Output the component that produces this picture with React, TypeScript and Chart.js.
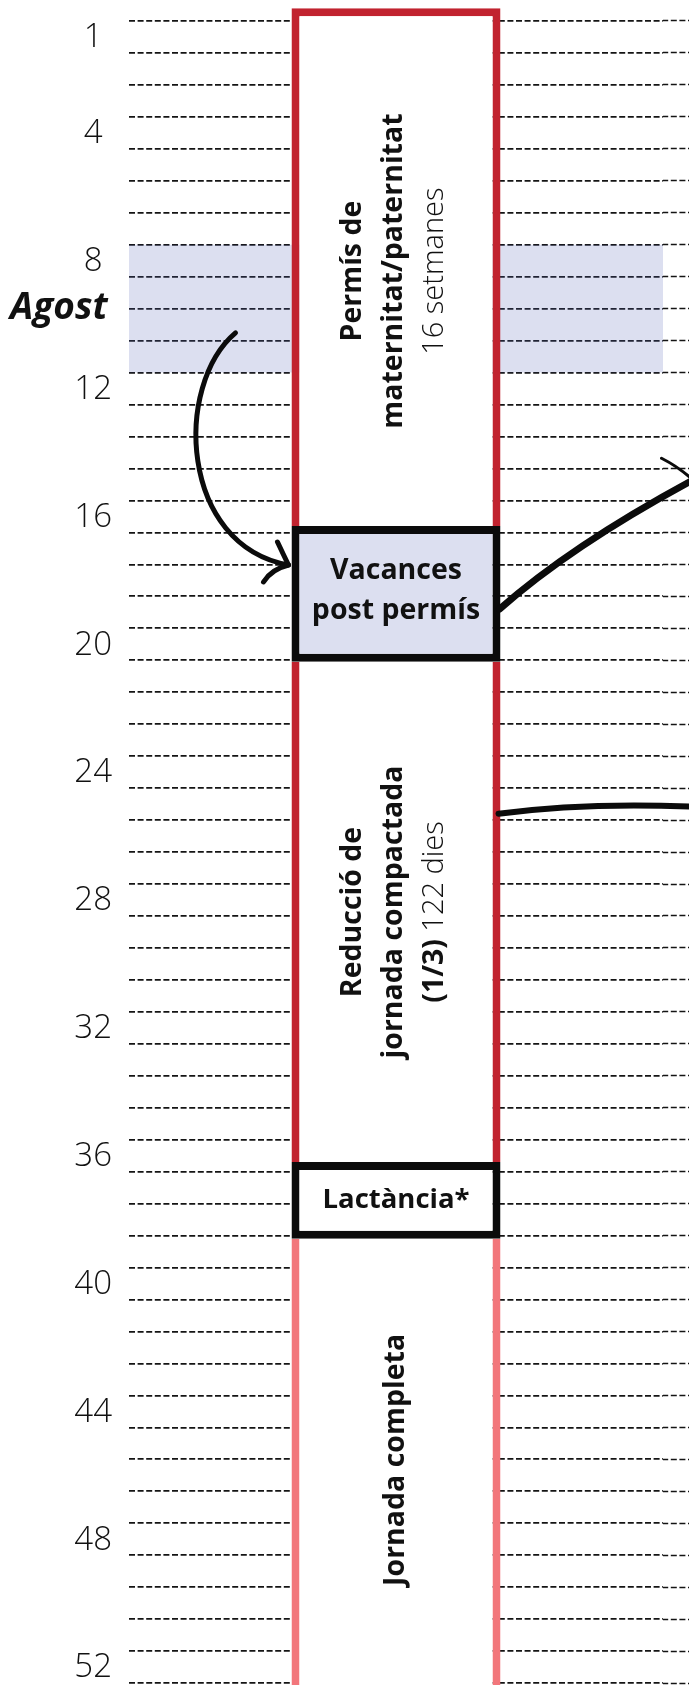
import React, { useEffect, useRef } from 'react';
import { Chart, registerables } from 'chart.js';

Chart.register(...registerables);

// ---- data ----
const categories = ['Setmanes'];
const weekLabels = [1, 4, 8, 12, 16, 20, 24, 28, 32, 36, 40, 44, 48, 52];
const gridWeeks = [
  0, 1, 2, 3, 4, 5, 6, 7, 8, 9, 10, 11, 12, 13, 14, 15, 16, 17, 18, 19, 20, 21, 22, 23, 24, 25, 26,
  27, 28, 29, 30, 31, 32, 33, 34, 35, 36, 37, 38, 39, 40, 41, 42, 43, 44, 45, 46, 47, 48, 49, 50, 51, 52,
];
const monthLabels = ['Agost'];
const monthStart = [7];
const monthEnd = [11];

const phaseNames = [
  'Permís de maternitat/paternitat',
  'Vacances post permís',
  'Reducció de jornada compactada (1/3)',
  'Lactància*',
  'Jornada completa',
];
const phaseStart = [-0.4, 15.8, 20.05, 35.7, 38.1];
const phaseEnd = [15.8, 20.05, 35.7, 38.1, 52.6];
const phaseDetail = ['16 setmanes', '', '122 dies', '', ''];

// ---- styles ----
const RED = '#c1232f';
const PINK = '#f2767b';
const BLACK = '#0b0b0b';
const BAND = 'rgba(80, 95, 180, 0.2)';
const BLUE_FILL = '#dcdff0';
const TEXT = '#111111';
const GRID = '#141414';
const Y_MIN = -0.657;
const Y_MAX = 52.06;
const FONT = '"Open Sans"';
const DASH = [6, 2.6];

const zeroPad = (s: any) => {
  s.paddingTop = 0;
  s.paddingBottom = 0;
  s.paddingLeft = 0;
  s.paddingRight = 0;
};

export default function App() {
  const ref = useRef<HTMLCanvasElement>(null);

  useEffect(() => {
    const canvas = ref.current;
    if (!canvas) return;

    const phaseBorder = [RED, BLACK, RED, BLACK, PINK];
    const phaseFill = ['#ffffff', BLUE_FILL, '#ffffff', '#ffffff', '#ffffff'];
    const phaseBorderWidth: any[] = [
      { top: 8, left: 8, right: 8, bottom: 0 },
      8,
      { top: 0, left: 8, right: 8, bottom: 0 },
      8,
      { top: 0, left: 8, right: 8, bottom: 0 },
    ];
    const phaseOrder = [1, 0, 1, 0, 1];
    const colPct = 0.3914;

    const datasets: any[] = phaseNames.map((name, i) => ({
      label: name,
      data: [[phaseStart[i], phaseEnd[i]]],
      backgroundColor: phaseFill[i],
      borderColor: phaseBorder[i],
      borderWidth: phaseBorderWidth[i],
      borderSkipped: false,
      barPercentage: colPct,
      categoryPercentage: 1,
      grouped: false,
      order: phaseOrder[i],
      inflateAmount: 0,
    }));
    datasets.push({
      label: monthLabels[0],
      data: monthLabels.map((_, i) => [monthStart[i], monthEnd[i]]),
      backgroundColor: BAND,
      borderWidth: 0,
      barPercentage: 1,
      categoryPercentage: 1,
      grouped: false,
      order: 5,
      inflateAmount: 0,
    });

    const bold = (s: number) => `bold ${s}px ${FONT}`;
    const light = (s: number) => `300 ${s}px ${FONT}`;

    type Part = { text: string; font: string };
    const drawLines = (
      ctx: CanvasRenderingContext2D,
      cx: number,
      cy: number,
      lines: Part[][],
      spacing: number,
      rotate: boolean
    ) => {
      ctx.save();
      ctx.translate(cx, cy);
      if (rotate) ctx.rotate(-Math.PI / 2);
      ctx.textBaseline = 'middle';
      ctx.textAlign = 'left';
      ctx.fillStyle = TEXT;
      lines.forEach((parts, li) => {
        const off = (li - (lines.length - 1) / 2) * spacing;
        let total = 0;
        parts.forEach((p) => {
          ctx.font = p.font;
          total += ctx.measureText(p.text).width;
        });
        let x = -total / 2;
        parts.forEach((p) => {
          ctx.font = p.font;
          ctx.fillText(p.text, x, off);
          x += ctx.measureText(p.text).width;
        });
      });
      ctx.restore();
    };

    const textPlugin = {
      id: 'phaseText',
      afterDatasetsDraw(chart: any) {
        const ctx: CanvasRenderingContext2D = chart.ctx;
        const area = chart.chartArea;
        const ys = chart.scales.y;
        const bars = phaseNames.map((_, i) =>
          chart.getDatasetMeta(i).data[0].getProps(['x', 'y', 'base', 'width'], true)
        );
        const center = (b: any) => {
          const top = Math.max(Math.min(b.y, b.base), area.top);
          const bot = Math.min(Math.max(b.y, b.base), area.bottom);
          return (top + bot) / 2;
        };
        const B = bold(28.5);
        const L = light(29);
        // Permís
        drawLines(
          ctx,
          bars[0].x - 2,
          center(bars[0]) + 4,
          [
            [{ text: 'Permís de', font: B }],
            [{ text: 'maternitat/paternitat', font: B }],
            [{ text: phaseDetail[0], font: L }],
          ],
          41,
          true
        );
        // Vacances
        drawLines(
          ctx,
          bars[1].x,
          center(bars[1]) - 3,
          [[{ text: 'Vacances', font: bold(28.5) }], [{ text: 'post permís', font: bold(28.5) }]],
          40,
          false
        );
        // Reducció
        drawLines(
          ctx,
          bars[2].x - 2,
          center(bars[2]),
          [
            [{ text: 'Reducció de', font: B }],
            [{ text: 'jornada compactada', font: B }],
            [
              { text: '(1/3) ', font: B },
              { text: phaseDetail[2], font: L },
            ],
          ],
          41,
          true
        );
        // Lactància
        drawLines(ctx, bars[3].x, center(bars[3]), [[{ text: 'Lactància*', font: bold(27.5) }]], 36, false);
        // Jornada completa
        drawLines(ctx, bars[4].x, center(bars[4]) - 2, [[{ text: 'Jornada completa', font: B }]], 41, true);

        // ---- hand-drawn arrows ----
        const colL = bars[0].x - bars[0].width / 2;
        const colR = bars[0].x + bars[0].width / 2;
        const yv = (v: number) => ys.getPixelForValue(v);
        ctx.save();
        ctx.strokeStyle = BLACK;
        ctx.lineCap = 'round';
        ctx.lineJoin = 'round';
        // arrow 1 (curved, to Vacances box)
        ctx.lineWidth = 5;
        ctx.beginPath();
        ctx.moveTo(colL - 56, yv(9.76));
        ctx.bezierCurveTo(colL - 118, yv(11.4), colL - 112, yv(16.4), colL - 3, yv(17.02));
        ctx.stroke();
        ctx.beginPath();
        ctx.moveTo(colL - 14, yv(16.3));
        ctx.quadraticCurveTo(colL - 8, yv(16.7), colL - 3, yv(17.02));
        ctx.quadraticCurveTo(colL - 20, yv(17.15), colL - 28, yv(17.55));
        ctx.stroke();
        // arrow 2 (from Vacances box up-right)
        ctx.lineWidth = 7;
        ctx.beginPath();
        ctx.moveTo(colR - 1, yv(18.4));
        ctx.quadraticCurveTo(colR + 75, yv(16.3), colR + 205, yv(14.15));
        ctx.stroke();
        ctx.lineWidth = 3;
        ctx.beginPath();
        ctx.moveTo(colR + 161, yv(13.68));
        ctx.quadraticCurveTo(colR + 178, yv(13.95), colR + 192, yv(14.35));
        ctx.stroke();
        // arrow 3 (from Reducció to the right)
        ctx.lineWidth = 6;
        ctx.beginPath();
        ctx.moveTo(colR - 2, yv(24.8));
        ctx.quadraticCurveTo(colR + 90, yv(24.42), colR + 205, yv(24.6));
        ctx.stroke();
        ctx.restore();
      },
    };

    const vBase = { type: 'linear', reverse: true, min: Y_MIN, max: Y_MAX };

    const chart = new Chart(canvas, {
      type: 'bar',
      data: { labels: categories, datasets },
      plugins: [textPlugin],
      options: {
        responsive: false,
        animation: false,
        events: [],
        layout: { padding: 0, autoPadding: false },
        plugins: { legend: { display: false }, tooltip: { enabled: false }, title: { display: false } },
        scales: {
          x: { type: 'category', display: false, offset: true },
          y: {
            ...vBase,
            position: 'left',
            weight: 0,
            ticks: { display: false },
            grid: { color: GRID, lineWidth: 1.7, drawTicks: false },
            border: { display: false, dash: DASH },
            afterBuildTicks: (s: any) => {
              s.ticks = gridWeeks.map((v) => ({ value: v }));
            },
            afterFit: (s: any) => {
              s.width = 0;
              zeroPad(s);
            },
          },
          yMonth: {
            ...vBase,
            position: 'left',
            weight: 1,
            grid: { display: false, drawTicks: false },
            border: { display: false },
            ticks: {
              autoSkip: false,
              mirror: true,
              crossAlign: 'near',
              padding: -119,
              color: TEXT,
              font: { family: FONT, size: 37, weight: 'bold', style: 'italic' },
              callback: (_v: any, i: number) => monthLabels[i],
            },
            afterBuildTicks: (s: any) => {
              s.ticks = monthStart.map((st, i) => ({ value: (st + monthEnd[i]) / 2 }));
            },
            afterFit: (s: any) => {
              s.width = 0;
              zeroPad(s);
            },
          },
          yWeeks: {
            ...vBase,
            position: 'left',
            weight: 2,
            grid: { display: false, drawTicks: false },
            border: { display: false },
            ticks: {
              autoSkip: false,
              crossAlign: 'center',
              padding: 17,
              color: TEXT,
              font: { family: FONT, size: 33, weight: '300' },
              callback: (_v: any, i: number) => String(weekLabels[i]),
            },
            afterBuildTicks: (s: any) => {
              s.ticks = weekLabels.map((k) => ({ value: k - 0.47 }));
            },
            afterFit: (s: any) => {
              s.width = 129;
              zeroPad(s);
            },
          },
          yRight: {
            ...vBase,
            position: 'right',
            ticks: { display: false },
            grid: {
              drawOnChartArea: false,
              drawTicks: true,
              tickLength: 26,
              tickColor: GRID,
              tickWidth: 1.7,
              tickBorderDash: DASH,
              tickBorderDashOffset: 0.8,
            },
            border: { display: false },
            afterBuildTicks: (s: any) => {
              s.ticks = gridWeeks.map((v) => ({ value: v }));
            },
            afterFit: (s: any) => {
              s.width = 26;
              zeroPad(s);
            },
          },
        },
      } as any,
    });

    return () => chart.destroy();
  }, []);

  return (
    <div style={{ position: 'absolute', left: 0, top: 0, width: 689, height: 1685, background: '#ffffff' }}>
      <canvas ref={ref} width={689} height={1685} style={{ display: 'block' }} />
    </div>
  );
}
